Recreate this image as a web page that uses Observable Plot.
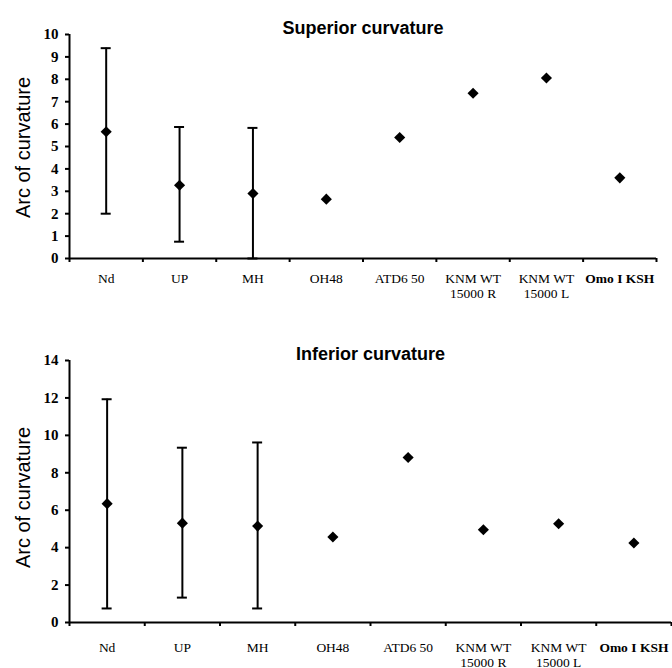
<!DOCTYPE html>
<html><head><meta charset="utf-8">
<script src="https://cdn.jsdelivr.net/npm/d3@7"></script>
<script src="https://cdn.jsdelivr.net/npm/@observablehq/plot@0.6"></script>
<style>body{margin:0;background:#fff} svg{display:block}</style>
</head><body><div id="c"></div>
<script>
const categories = ["Nd", "UP", "MH", "OH48", "ATD6 50", "KNM WT\n15000 R", "KNM WT\n15000 L", "Omo I KSH"];
const boldCategory = "Omo I KSH";
const yLabel = "Arc of curvature";

const supTitle = "Superior curvature";
const supMean = [5.66, 3.27, 2.9, 2.65, 5.4, 7.38, 8.06, 3.6];
const supLow  = [2.0, 0.75, 0, null, null, null, null, null];
const supHigh = [9.39, 5.87, 5.83, null, null, null, null, null];
const supTicks = [0, 1, 2, 3, 4, 5, 6, 7, 8, 9, 10];

const infTitle = "Inferior curvature";
const infMean = [6.35, 5.31, 5.15, 4.57, 8.82, 4.96, 5.28, 4.25];
const infLow  = [0.75, 1.33, 0.75, null, null, null, null, null];
const infHigh = [11.93, 9.34, 9.62, null, null, null, null, null];
const infTicks = [0, 2, 4, 6, 8, 10, 12, 14];

const SANS = "'Liberation Sans', Arial, sans-serif";
const SERIF = "'Liberation Serif', 'Times New Roman', serif";

function panel({title, mean, low, high, ticks, height, marginTop, marginBottom, marginRight, labelDy, lineHeight, ylabelDy}) {
  const rows = categories.map((c, i) => ({c, pos: i + 0.5, mean: mean[i], low: low[i], high: high[i]}));
  const bars = rows.filter(d => d.low != null);
  const yMax = ticks[ticks.length - 1];
  const labelOpts = {x: "pos", y: () => 0, text: "c", lineAnchor: "top", dy: labelDy, fontSize: 13.5, lineHeight, fontFamily: SERIF};
  return Plot.plot({
    width: 672, height, marginLeft: 69, marginRight, marginTop, marginBottom,
    x: {domain: [0, categories.length], axis: null},
    y: {domain: [0, yMax], axis: null},
    style: {background: "white", color: "black", fontFamily: SERIF, overflow: "visible"},
    marks: [
      Plot.axisY({ticks, tickSize: 4, strokeWidth: 2, tickFormat: () => "", label: null}),
      Plot.text(ticks, {y: d => d, frameAnchor: "left", textAnchor: "end", dx: -11, text: d => String(d), fontSize: 15, fontWeight: "bold", fontFamily: SERIF}),
      Plot.axisX({ticks: d3.range(0, categories.length + 1), tickSize: 4, strokeWidth: 2, tickFormat: () => "", label: null}),
      Plot.ruleX([0], {strokeWidth: 2}),
      Plot.ruleY([0], {strokeWidth: 2}),
      Plot.ruleX(bars, {x: "pos", y1: "low", y2: "high", strokeWidth: 2}),
      Plot.ruleY(bars, {y: "high", x1: "pos", x2: "pos", insetLeft: -5, insetRight: -5, strokeWidth: 2}),
      Plot.ruleY(bars, {y: "low", x1: "pos", x2: "pos", insetLeft: -5, insetRight: -5, strokeWidth: 2}),
      Plot.dot(rows, {x: "pos", y: "mean", symbol: "diamond2", r: 5, fill: "black", stroke: null}),
      Plot.text(rows.filter(d => d.c !== boldCategory), labelOpts),
      Plot.text(rows.filter(d => d.c === boldCategory), {...labelOpts, fontWeight: "bold"}),
      Plot.text([title], {frameAnchor: "top", dy: -12.8, text: d => d, fontFamily: SANS, fontWeight: "bold", fontSize: 18}),
      Plot.text([yLabel], {frameAnchor: "left", textAnchor: "middle", dx: -46, dy: ylabelDy, rotate: -90, text: d => d, fontFamily: SANS, fontSize: 20})
    ]
  });
}

const c = document.getElementById("c");
c.append(panel({title: supTitle, mean: supMean, low: supLow, high: supHigh, ticks: supTicks,
  height: 320, marginTop: 34, marginBottom: 62, marginRight: 16, labelDy: 13.4, lineHeight: 1.11, ylabelDy: 1}));
c.append(panel({title: infTitle, mean: infMean, low: infLow, high: infHigh, ticks: infTicks,
  height: 348, marginTop: 40, marginBottom: 46, marginRight: 1, labelDy: 20, lineHeight: 1.04, ylabelDy: 6}));
</script>
</body></html>
